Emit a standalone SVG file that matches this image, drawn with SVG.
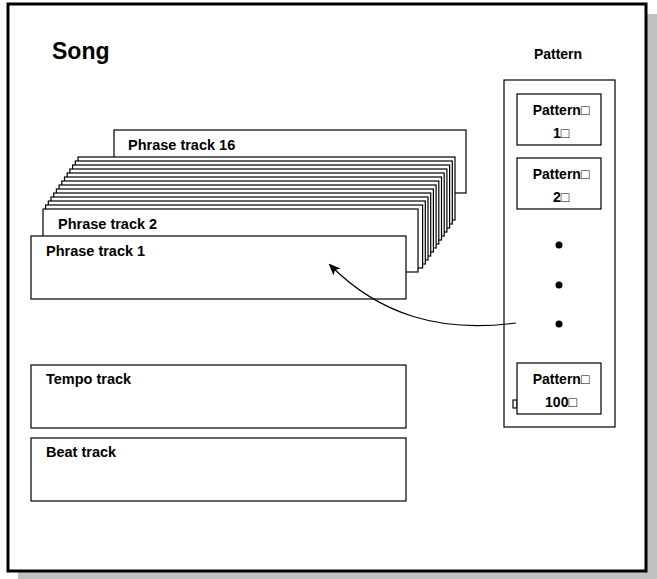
<svg xmlns="http://www.w3.org/2000/svg" width="657" height="579" viewBox="0 0 657 579">
<style>
text{font-family:"Liberation Sans",Arial,sans-serif;font-weight:bold;fill:#000}
.b{fill:#fff;stroke:#000;stroke-width:1.2}
.t{font-size:14.5px}
.p{font-size:14px;text-anchor:middle}
</style>
<defs><marker id="ah" markerWidth="12" markerHeight="10" refX="10" refY="5" orient="auto" markerUnits="userSpaceOnUse"><path d="M0,0 L12,5 L0,10 L3,5 Z" fill="#000"/></marker></defs>
<rect x="18" y="14" width="639" height="565" fill="#c0c0c0"/>
<rect x="8" y="4" width="638" height="567" fill="#fff" stroke="#000" stroke-width="3"/>
<text x="52" y="59" style="font-size:23px">Song</text>
<g id="track16"><rect class="b" x="114" y="130" width="352" height="63"/><text class="t" x="128" y="150">Phrase track 16</text></g>
<g id="tracks3to15">
<rect class="b" x="78" y="157" width="377" height="63"/>
<rect class="b" x="75.3" y="161" width="377" height="63"/>
<rect class="b" x="72.6" y="165" width="377" height="63"/>
<rect class="b" x="69.9" y="169" width="377" height="63"/>
<rect class="b" x="67.2" y="173" width="377" height="63"/>
<rect class="b" x="64.5" y="177" width="377" height="63"/>
<rect class="b" x="61.8" y="181" width="377" height="63"/>
<rect class="b" x="59.1" y="185" width="377" height="63"/>
<rect class="b" x="56.4" y="189" width="377" height="63"/>
<rect class="b" x="53.7" y="193" width="377" height="63"/>
<rect class="b" x="51" y="197" width="377" height="63"/>
<rect class="b" x="48.3" y="201" width="377" height="63"/>
<rect class="b" x="45.6" y="205" width="377" height="63"/>
</g>
<g id="track2"><rect class="b" x="43" y="209" width="375" height="63"/><text class="t" x="58" y="229">Phrase track 2</text></g>
<g id="track1"><rect class="b" x="31" y="236" width="375" height="63"/><text class="t" x="46" y="256">Phrase track 1</text></g>
<g id="tempo"><rect class="b" x="31" y="365" width="375" height="63"/><text class="t" x="46" y="384">Tempo track</text></g>
<g id="beat"><rect class="b" x="31" y="438" width="375" height="63"/><text class="t" x="46" y="457">Beat track</text></g>
<text class="p" x="558" y="59">Pattern</text>
<g id="patterns">
<rect class="b" x="504" y="80" width="111" height="347"/>
<g id="pattern1"><rect class="b" x="517" y="94" width="84" height="51"/><text class="p" x="561" y="115">Pattern□</text><text class="p" x="561" y="138">1□</text></g>
<g id="pattern2"><rect class="b" x="517" y="158" width="84" height="51"/><text class="p" x="561" y="179">Pattern□</text><text class="p" x="561" y="202">2□</text></g>
<circle cx="559" cy="245" r="3.5"/><circle cx="559" cy="285" r="3.5"/><circle cx="559" cy="324" r="3.5"/>
<g id="pattern100"><rect class="b" x="513" y="400" width="4" height="8"/><rect class="b" x="517" y="363" width="84" height="51"/><text class="p" x="561" y="384">Pattern□</text><text class="p" x="561" y="407">100□</text></g>
</g>
<g id="connectors"><path d="M516,323 C440,333 380,315 330,265" fill="none" stroke="#000" stroke-width="1.2" marker-end="url(#ah)"/></g>
</svg>
